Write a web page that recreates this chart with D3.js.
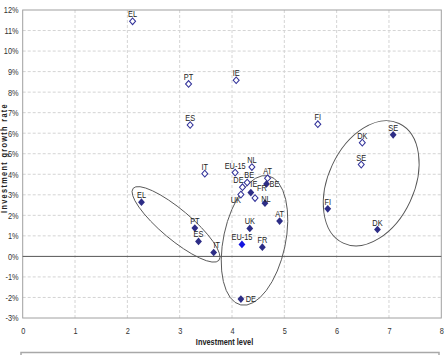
<!DOCTYPE html>
<html>
<head>
<meta charset="utf-8">
<script src="https://cdn.jsdelivr.net/npm/d3@7"></script>
<style>
  body { margin: 0; background: #fff; }
  svg text { font-family: "Liberation Sans", Arial, sans-serif; }
</style>
</head>
<body>
<div id="chart"></div>
<script>
// open diamonds (earlier period)
const openCountries = ["EL", "PT", "ES", "IT", "IE", "FI", "DK", "SE", "EU-15", "NL", "AT", "BE", "DE", "UK", "FR"];
const openLevel  = [2.10, 3.17, 3.20, 3.48, 4.08, 5.64, 6.49, 6.47, 4.06, 4.38, 4.68, 4.29, 4.20, 4.17, 4.44];
const openGrowth = [11.45, 8.40, 6.40, 4.03, 8.58, 6.44, 5.54, 4.47, 4.08, 4.35, 3.81, 3.60, 3.37, 3.01, 2.84];

// filled diamonds (later period)
const fillCountries = ["SE", "FI", "DK", "EL", "PT", "ES", "IT", "IE", "BE", "NL", "AT", "UK", "EU-15", "FR", "DE"];
const fillLevel  = [7.08, 5.83, 6.78, 2.27, 3.29, 3.36, 3.65, 4.36, 4.66, 4.63, 4.91, 4.34, 4.19, 4.58, 4.17];
const fillGrowth = [5.92, 2.32, 1.31, 2.64, 1.38, 0.73, 0.19, 3.11, 3.53, 2.59, 1.72, 1.36, 0.58, 0.45, -2.08];

const xTicks = [0, 1, 2, 3, 4, 5, 6, 7, 8];
const yTicks = [-3, -2, -1, 0, 1, 2, 3, 4, 5, 6, 7, 8, 9, 10, 11, 12];

// group ellipses: centre in data units
const groupCx = [2.93, 4.43, 6.66];
const groupCy = [1.56, 0.78, 3.56];

// ---- styling / layout ----
const W = 446, H = 355;
const NARROW = 0.82;   // squeeze text horizontally, the original uses a narrow face
const FS = 9;
const ellipseShape = [ {rx: 56, ry: 15, rot: 40}, {rx: 66, ry: 31, rot: -78}, {rx: 66, ry: 43, rot: -65} ];
// label nudges (px) for crowded points, default is centred just above
const openNudge = { "DE": [-4, 0], "UK": [-5, 12], "FR": [7, -3], "BE": [2, 0] };
const fillNudge = { "BE": [8, 7], "DE": [10, 7], "IE": [3, -2], "IT": [3, 0], "NL": [1, 3] };

const x = d3.scaleLinear().domain([0, 8]).range([22.7, 441.3]);
const y = d3.scaleLinear().domain([-3, 12]).range([318, 10]);

const svg = d3.select("#chart").append("svg")
    .attr("width", W)
    .attr("height", H);

// grid
svg.append("g").selectAll("line")
    .data(yTicks.filter(d => d !== 0 && d !== 12 && d !== -3))
    .join("line")
    .attr("x1", x(0)).attr("x2", x(8))
    .attr("y1", d => y(d)).attr("y2", d => y(d))
    .attr("stroke", "#d4d4d4")
    .attr("stroke-dasharray", "3,2");

svg.append("g").selectAll("line")
    .data(xTicks.filter(d => d > 0 && d < 8))
    .join("line")
    .attr("y1", y(-3)).attr("y2", y(12))
    .attr("x1", d => x(d)).attr("x2", d => x(d))
    .attr("stroke", "#d4d4d4")
    .attr("stroke-dasharray", "3,2");

// frame
svg.append("rect")
    .attr("x", x(0)).attr("y", y(12))
    .attr("width", x(8) - x(0)).attr("height", y(-3) - y(12))
    .attr("fill", "none")
    .attr("stroke", "#a0a0a0");

// zero line
svg.append("line")
    .attr("x1", x(0)).attr("x2", x(8))
    .attr("y1", y(0)).attr("y2", y(0))
    .attr("stroke", "#555");

// axes
const yAxis = d3.axisLeft(y).tickValues(yTicks).tickSize(0).tickPadding(5).tickFormat(d => d + "%");
const xAxis = d3.axisBottom(x).tickValues(xTicks).tickSize(0).tickPadding(10).tickFormat(d3.format("d"));

const yg = svg.append("g").attr("transform", "translate(" + x(0) + ",0)").call(yAxis);
const xg = svg.append("g").attr("transform", "translate(0," + y(-3) + ")").call(xAxis);
[yg, xg].forEach(g => {
    g.select(".domain").remove();
    g.selectAll("text")
        .attr("font-size", FS)
        .attr("fill", "#333")
        .attr("transform", "scale(" + NARROW + ",1)")
        .style("font-family", '"Liberation Sans", Arial, sans-serif');
});

// axis titles
svg.append("text")
    .attr("transform", "translate(224.5,344.5) scale(" + NARROW + ",1)")
    .attr("text-anchor", "middle")
    .attr("font-size", FS)
    .attr("font-weight", "bold")
    .attr("fill", "#222")
    .text("Investment level");

svg.append("text")
    .attr("transform", "translate(6.5,158) rotate(-90) scale(" + NARROW + ",1)")
    .attr("text-anchor", "middle")
    .attr("font-size", FS)
    .attr("font-weight", "bold")
    .attr("letter-spacing", 1.6)
    .attr("fill", "#222")
    .text("Investment growth rate");

// group ellipses
svg.append("g").selectAll("ellipse")
    .data(groupCx.map((c, i) => ({cx: c, cy: groupCy[i], s: ellipseShape[i]})))
    .join("ellipse")
    .attr("transform", d => "translate(" + x(d.cx) + "," + y(d.cy) + ") rotate(" + d.s.rot + ")")
    .attr("rx", d => d.s.rx).attr("ry", d => d.s.ry)
    .attr("fill", "none")
    .attr("stroke", "#555")
    .attr("stroke-width", 0.9);

const square = d3.symbol().type(d3.symbolSquare);

const openData = openCountries.map((c, i) => ({c, lx: openLevel[i], gy: openGrowth[i]}));
const fillData = fillCountries.map((c, i) => ({c, lx: fillLevel[i], gy: fillGrowth[i]}));

// open markers
svg.append("g").selectAll("path")
    .data(openData)
    .join("path")
    .attr("d", square.size(22)())
    .attr("transform", d => "translate(" + x(d.lx) + "," + y(d.gy) + ") scale(0.9,1) rotate(45)")
    .attr("fill", "#fff")
    .attr("stroke", "#33339a")
    .attr("stroke-width", 1.1);

// filled markers
svg.append("g").selectAll("path")
    .data(fillData)
    .join("path")
    .attr("d", square.size(30)())
    .attr("transform", d => "translate(" + x(d.lx) + "," + y(d.gy) + ") scale(0.88,1) rotate(45)")
    .attr("fill", d => d.c === "EU-15" ? "#1414e0" : "#2d2d86");

// labels
function labels(data, nudge) {
    svg.append("g").selectAll("text")
        .data(data)
        .join("text")
        .attr("transform", d => {
            const n = nudge[d.c] || [0, 0];
            return "translate(" + (x(d.lx) + n[0]) + "," + (y(d.gy) - 4 + n[1]) + ") scale(" + NARROW + ",1)";
        })
        .attr("text-anchor", "middle")
        .attr("font-size", FS)
        .attr("fill", "#222")
        .text(d => d.c);
}
labels(openData, openNudge);
labels(fillData, fillNudge);

// legend box (cut off at bottom)
svg.append("rect")
    .attr("x", 21).attr("y", 352.5)
    .attr("width", 418).attr("height", 20)
    .attr("fill", "#fff")
    .attr("stroke", "#a8a8a8")
    .attr("stroke-width", 1.5);
</script>
</body>
</html>
